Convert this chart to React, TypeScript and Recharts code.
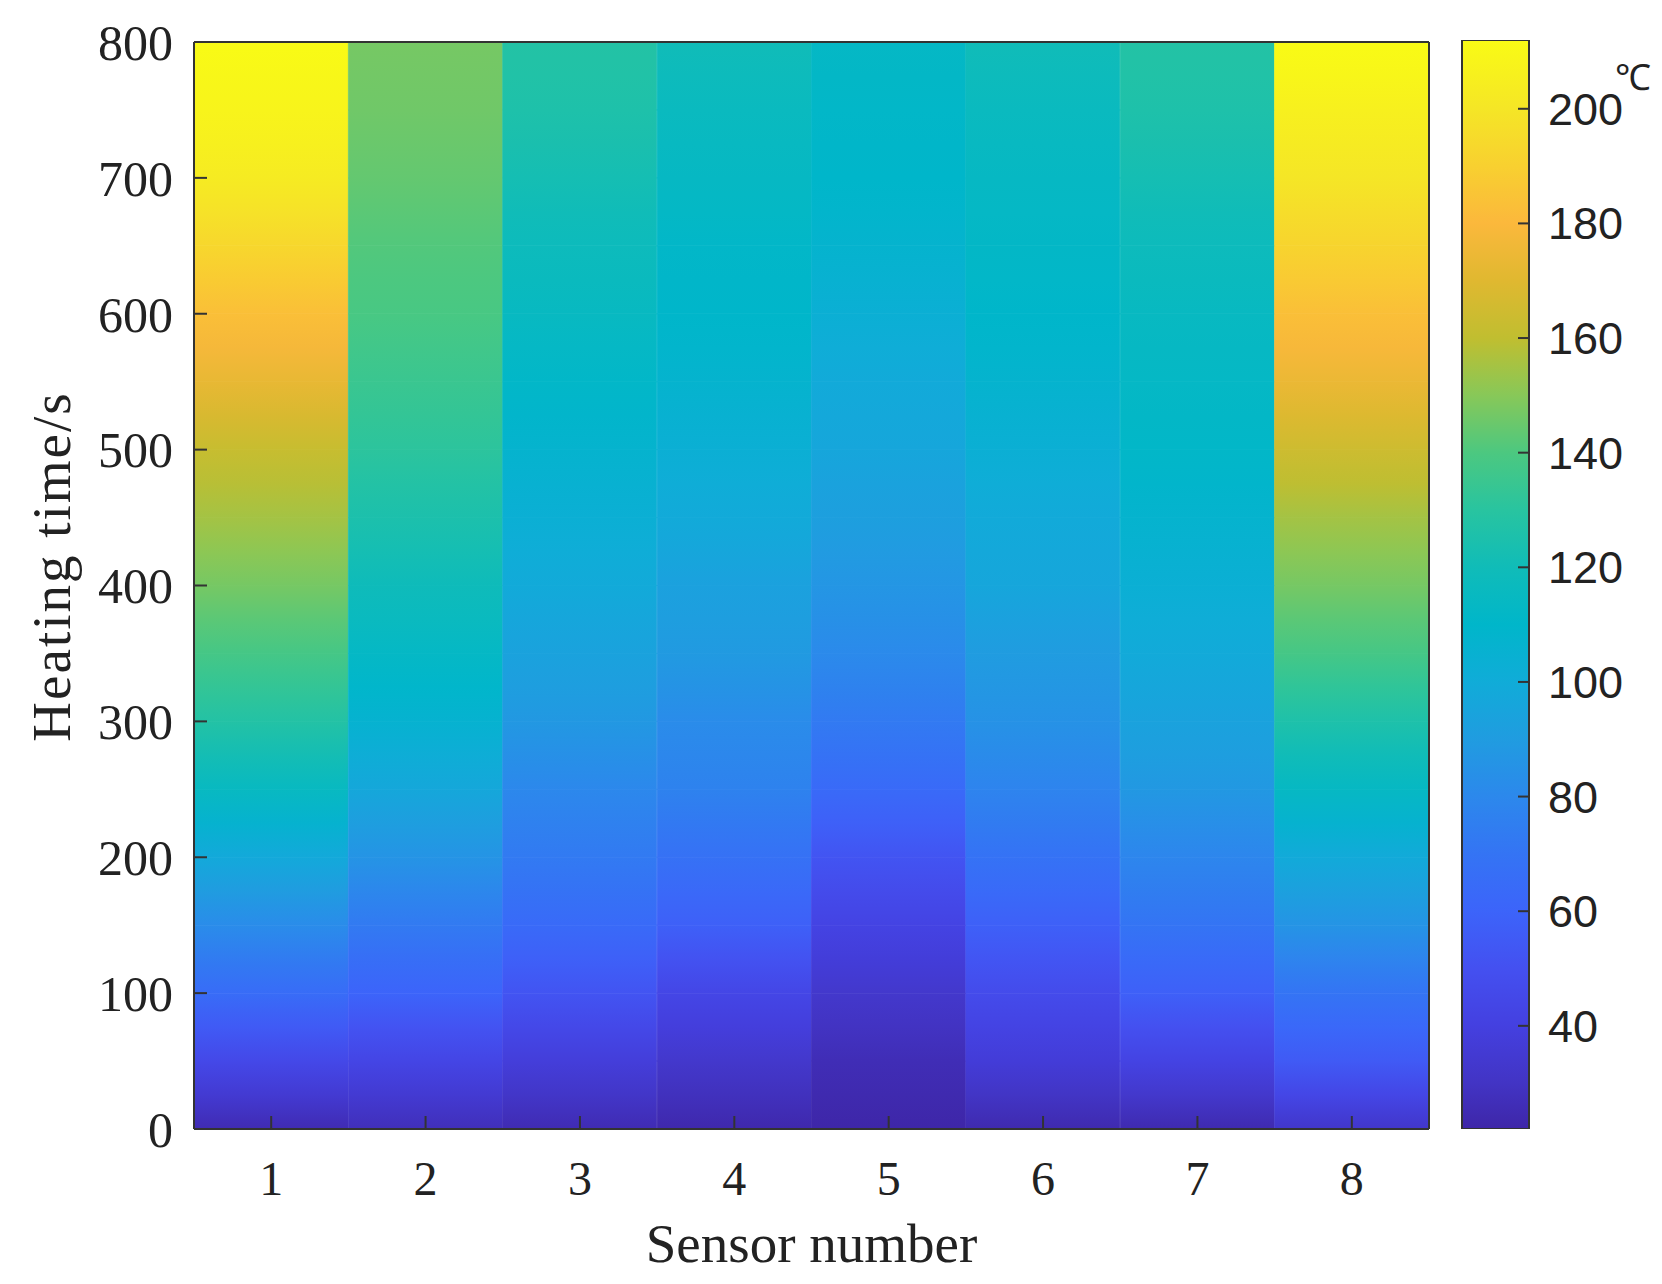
import { BarChart, Bar, XAxis, YAxis, Cell } from 'recharts';

// sensor columns and the time rows (s) the temperatures were read at
const SENSORS = ['1', '2', '3', '4', '5', '6', '7', '8'];
const TIMES = [0, 50, 100, 150, 200, 250, 300, 350, 400, 450, 500, 550, 600, 650, 700, 750, 800];

// temperature (°C) per sensor, one value per entry of TIMES
const SENSOR_1 = [25, 45, 65, 82, 98, 115, 128, 138, 147, 155, 162, 173, 183, 193, 203, 208, 212];
const SENSOR_2 = [27, 43, 60, 73, 86, 97, 106, 113, 119, 125, 131, 135, 139, 141, 144, 146, 147];
const SENSOR_3 = [25, 38, 52, 64, 73, 80, 88, 94, 99, 103, 107, 111, 115, 118, 122, 126, 128];
const SENSOR_4 = [23, 33, 44, 58, 68, 77, 82, 89, 93, 99, 103, 107, 110, 111, 114, 116, 120];
const SENSOR_5 = [22, 26, 33, 42, 52, 64, 73, 81, 87, 92, 96, 99, 103, 107, 110, 111, 113];
const SENSOR_6 = [24, 37, 47, 58, 69, 78, 85, 90, 96, 99, 103, 107, 110, 112, 114, 116, 120];
const SENSOR_7 = [24, 42, 58, 70, 79, 88, 94, 99, 103, 107, 111, 113, 115, 118, 122, 126, 128];
const SENSOR_8 = [32, 55, 70, 86, 99, 114, 126, 138, 147, 155, 164, 174, 183, 192, 200, 206, 212];

const TEMPS = [SENSOR_1, SENSOR_2, SENSOR_3, SENSOR_4, SENSOR_5, SENSOR_6, SENSOR_7, SENSOR_8];

const TIME_TICKS = [0, 100, 200, 300, 400, 500, 600, 700, 800];
const TEMP_TICKS = [40, 60, 80, 100, 120, 140, 160, 180, 200];

const CMIN = Math.min(...TEMPS.flat());
const CMAX = Math.max(...TEMPS.flat());

// parula-like colormap, position 0..1 -> colour
const PARULA: [number, string][] = [
  [0, '#3E26A8'], [0.042, '#4234C4'], [0.095, '#4440E0'], [0.147, '#4450F0'],
  [0.2, '#3C64FA'], [0.253, '#3474F4'], [0.305, '#2C88EC'], [0.358, '#209CE0'],
  [0.411, '#10ACD8'], [0.463, '#00B6CA'], [0.516, '#10BCB8'], [0.568, '#28C4A0'],
  [0.621, '#4CC880'], [0.674, '#88C858'], [0.726, '#C0BE30'], [0.779, '#E0B830'],
  [0.832, '#FBB83C'], [0.884, '#F8D030'], [0.937, '#F5E626'], [1, '#F9FB15'],
];

const hexRgb = (h: string) => [1, 3, 5].map((i) => parseInt(h.slice(i, i + 2), 16));

function parula(v: number) {
  const t = Math.max(0, Math.min(1, (v - CMIN) / (CMAX - CMIN)));
  let i = 0;
  while (i < PARULA.length - 2 && t > PARULA[i + 1][0]) i++;
  const [t0, c0] = PARULA[i];
  const [t1, c1] = PARULA[i + 1];
  const f = (t - t0) / (t1 - t0);
  const a = hexRgb(c0);
  const b = hexRgb(c1);
  const rgb = a.map((x, k) => Math.round(x + (b[k] - x) * f));
  return `rgb(${rgb.join(',')})`;
}

const SEGMENTS = TIMES.slice(0, -1).map((t, k) => ({ key: `seg${k}`, k }));

const heatData = SENSORS.map((s) => {
  const row: any = { sensor: s };
  SEGMENTS.forEach(({ key, k }) => {
    row[key] = TIMES[k + 1] - TIMES[k];
  });
  return row;
});

const barData = [{ name: 'cb', range: [CMIN, CMAX] }];

const AXIS = '#333333';
const SERIF = '"Liberation Serif", "Times New Roman", serif';
const SANS = '"Liberation Sans", Arial, sans-serif';

const YLabel = ({ viewBox }: any) => (
  <text
    x={viewBox.x + 50}
    y={viewBox.y + viewBox.height / 2 - 19}
    transform={`rotate(-90 ${viewBox.x + 50} ${viewBox.y + viewBox.height / 2 - 19})`}
    textAnchor="middle"
    fontFamily={SERIF}
    fontSize={55}
    letterSpacing={2}
    fill="#222"
  >
    Heating time/s
  </text>
);

const XLabel = ({ viewBox }: any) => (
  <text x={viewBox.x + viewBox.width / 2} y={viewBox.y + 133} textAnchor="middle" fontFamily={SERIF} fontSize={55} fill="#222">
    Sensor number
  </text>
);

const UnitLabel = ({ viewBox }: any) => (
  <text x={viewBox.x + 86} y={viewBox.y + 50} fontFamily={SANS} fontSize={36} fill="#222">
    ℃
  </text>
);

export default function App() {
  return (
    <div style={{ position: 'absolute', left: 0, top: 0, width: 1662, height: 1284, background: '#fff' }}>
      <div style={{ position: 'absolute', left: 0, top: 0 }}>
        <BarChart
          width={1662}
          height={1284}
          data={heatData}
          margin={{ top: 41, right: 232, bottom: 0, left: 20 }}
          barCategoryGap={0}
          barGap={0}
        >
          <defs>
            {TEMPS.map((vals, i) =>
              SEGMENTS.map(({ k }) => (
                <linearGradient key={`g${i}-${k}`} id={`g${i}-${k}`} x1="0" y1="1" x2="0" y2="0">
                  <stop offset="0" stopColor={parula(vals[k])} />
                  <stop offset="0.5" stopColor={parula((vals[k] + vals[k + 1]) / 2)} />
                  <stop offset="1" stopColor={parula(vals[k + 1])} />
                </linearGradient>
              ))
            )}
          </defs>
          <XAxis
            dataKey="sensor"
            type="category"
            height={155}
            interval={0}
            tickSize={-13}
            tickMargin={45}
            axisLine={{ stroke: AXIS, strokeWidth: 2 }}
            tickLine={{ stroke: AXIS, strokeWidth: 2 }}
            tick={{ fontSize: 48, fill: '#222', fontFamily: SERIF }}
            label={XLabel}
          />
          <XAxis
            xAxisId="top"
            orientation="top"
            type="number"
            domain={[0.5, 8.5]}
            allowDataOverflow
            ticks={[1, 2, 3, 4, 5, 6, 7, 8]}
            height={1}
            tickSize={-12}
            tick={false}
            axisLine={{ stroke: AXIS, strokeWidth: 2 }}
            tickLine={{ stroke: AXIS, strokeWidth: 2 }}
          />
          <YAxis
            type="number"
            domain={[0, 800]}
            allowDataOverflow
            ticks={TIME_TICKS}
            interval={0}
            width={174}
            tickSize={-13}
            tickMargin={34}
            axisLine={{ stroke: AXIS, strokeWidth: 2 }}
            tickLine={{ stroke: AXIS, strokeWidth: 2 }}
            tick={{ fontSize: 50, fill: '#222', fontFamily: SERIF }}
            label={YLabel}
          />
          <YAxis
            yAxisId="right"
            orientation="right"
            type="number"
            domain={[0, 800]}
            allowDataOverflow
            ticks={TIME_TICKS}
            interval={0}
            width={1}
            tickSize={-13}
            tick={false}
            axisLine={{ stroke: AXIS, strokeWidth: 2 }}
            tickLine={{ stroke: AXIS, strokeWidth: 2 }}
          />
          {SEGMENTS.map(({ key, k }) => (
            <Bar key={key} dataKey={key} stackId="heat" isAnimationActive={false}>
              {SENSORS.map((s, i) => (
                <Cell key={`c${i}`} fill={`url(#g${i}-${k})`} stroke={`url(#g${i}-${k})`} strokeWidth={0.8} />
              ))}
            </Bar>
          ))}
        </BarChart>
      </div>
      <div style={{ position: 'absolute', left: 1440, top: 0 }}>
        <BarChart
          width={222}
          height={1284}
          data={barData}
          margin={{ top: 40, right: 0, bottom: 155, left: 22 }}
          barCategoryGap={0}
        >
          <defs>
            <linearGradient id="cbar" x1="0" y1="1" x2="0" y2="0">
              {PARULA.map(([t, c]) => (
                <stop key={t} offset={t} stopColor={c} />
              ))}
            </linearGradient>
          </defs>
          <XAxis dataKey="name" hide />
          <YAxis
            orientation="right"
            type="number"
            domain={[CMIN, CMAX]}
            allowDataOverflow
            ticks={TEMP_TICKS}
            interval={0}
            width={133}
            tickSize={-11}
            tickMargin={30}
            axisLine={false}
            stroke={AXIS}
            tickLine={{ stroke: AXIS, strokeWidth: 2 }}
            tick={{ fontSize: 45, fill: '#222', fontFamily: SANS }}
            label={UnitLabel}
          />
          <Bar dataKey="range" fill="url(#cbar)" stroke={AXIS} strokeWidth={2} isAnimationActive={false} />
        </BarChart>
      </div>
    </div>
  );
}
